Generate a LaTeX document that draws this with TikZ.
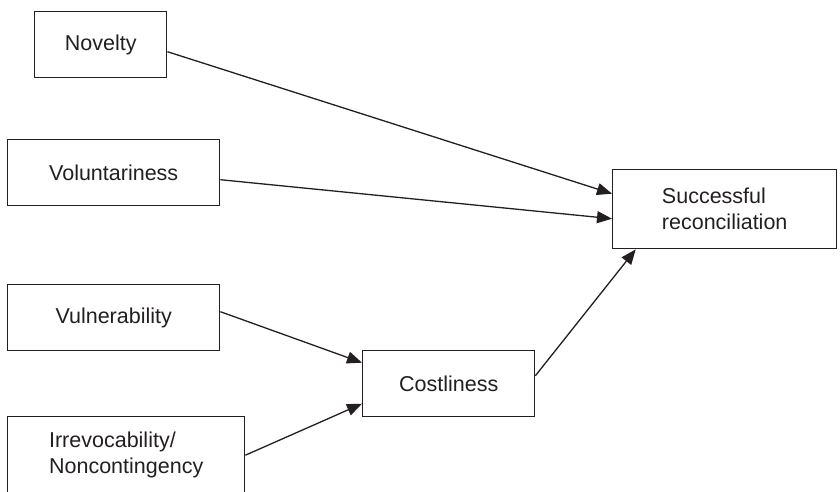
\documentclass[tikz,border=0pt]{standalone}
\usepackage{fontspec}
\setmainfont{Liberation Sans}
\usetikzlibrary{arrows.meta}
\definecolor{ink}{HTML}{231F20}
\begin{document}
\begin{tikzpicture}[x=1pt,y=-1pt,
  box/.style={draw=ink, line width=1.4pt, inner sep=0pt, anchor=north west,
    text=ink, font=\fontsize{21.5}{26}\selectfont},
  conn/.style={draw=ink, line width=1.3pt, -{Triangle[length=15pt,width=12pt]}}]
\useasboundingbox (0,0) rectangle (840,491);
\clip (0,0) rectangle (840,491);
\node[box, minimum width=132pt, minimum height=66pt] (nov) at (34,11) {Novelty};
\node[box, minimum width=212pt, minimum height=66pt] (vol) at (7,139) {Voluntariness};
\node[box, minimum width=212pt, minimum height=66pt] (vul) at (7,284) {Vulnerability};
\node[box, minimum width=237pt, minimum height=77pt, align=left] (irr) at (7,416) {Irrevocability/\\Noncontingency};
\node[box, minimum width=172pt, minimum height=66pt] (cost) at (362,350) {Costliness};
\node[box, minimum width=224pt, minimum height=79pt, align=left] (succ) at (612,169) {Successful\\reconciliation};
\draw[conn] ([yshift=-7pt]nov.east) -- ([yshift=15.5pt]succ.west);
\draw[conn] ([yshift=-7pt]vol.east) -- ([yshift=-9.5pt]succ.west);
\draw[conn] ([yshift=6pt]vul.east) -- ([yshift=21pt]cost.west);
\draw[conn] (irr.east) -- ([yshift=-20pt]cost.west);
\draw[conn] ([yshift=8pt]cost.east) -- ([xshift=-89pt]succ.south);
\end{tikzpicture}
\end{document}
